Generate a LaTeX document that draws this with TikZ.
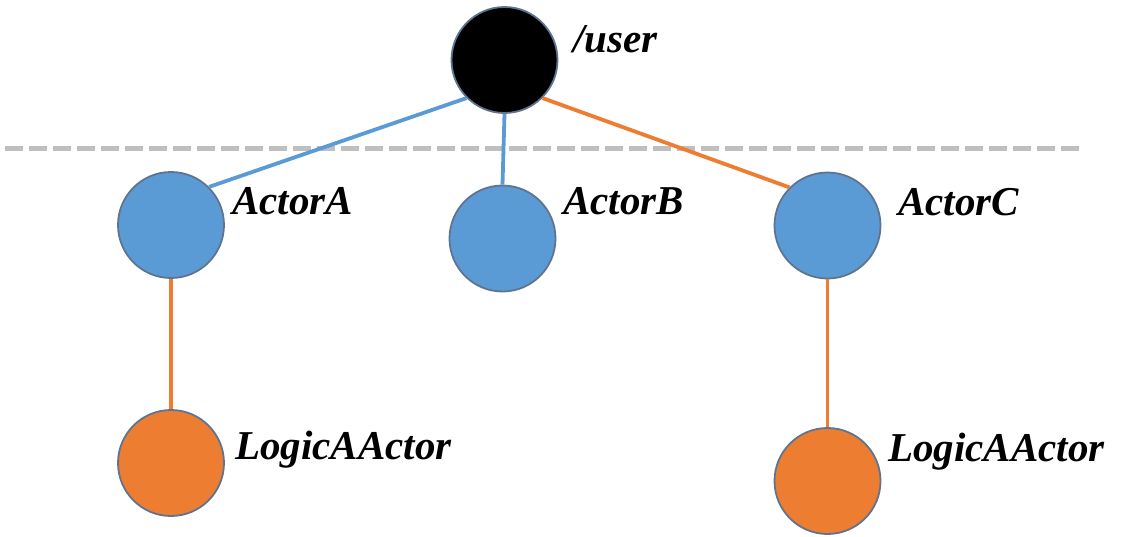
\documentclass[tikz,border=0pt]{standalone}
\usepackage{fontspec}
\setmainfont{Liberation Serif}
\definecolor{cblue}{HTML}{5B9BD5}
\definecolor{corange}{HTML}{ED7D31}
\definecolor{cedge}{HTML}{5F7490}
\definecolor{cdash}{HTML}{BFBFBF}
\tikzset{
  actor/.style={circle, draw=cedge, line width=1.8pt, minimum size=106pt, inner sep=0pt},
  bluenode/.style={actor, fill=cblue},
  orangenode/.style={actor, fill=corange},
  usernode/.style={actor, fill=black},
  lbl/.style={anchor=base west, inner sep=0pt, font=\fontsize{41}{41}\selectfont\bfseries\itshape},
  blueline/.style={draw=cblue, line width=3.8pt},
  orangeline/.style={draw=corange, line width=3.8pt},
  sep/.style={draw=cdash, line width=5pt, dash pattern=on 18pt off 6pt}
}
\begin{document}
\begin{tikzpicture}[x=1pt,y=-1pt]
\useasboundingbox (0,0) rectangle (1132,536);
\coordinate (d1) at (5,148);
\coordinate (d2) at (1080,148);
\draw[sep] (d1) -- (d2);
\node[usernode] (user) at (504.5,60) {};
\node[bluenode] (A) at (171,225) {};
\node[bluenode] (B) at (502.5,238.5) {};
\node[bluenode] (C) at (827.5,225.5) {};
\node[orangenode] (LA) at (171,463) {};
\node[orangenode] (LC) at (827.5,481) {};
\draw[blueline] (user.south west) -- (A.north east);
\draw[blueline] (user.south) -- (B.north);
\draw[orangeline] (user.south east) -- (C.north west);
\draw[orangeline] (A.south) -- (LA.north);
\draw[orangeline] (C.south) -- (LC.north);
\node[lbl] (tuser) at (573,52) {/user};
\node[lbl] (tA) at (232,214) {ActorA};
\node[lbl] (tB) at (563,214) {ActorB};
\node[lbl] (tC) at (898,215) {ActorC};
\node[lbl] (tLA) at (235,459) {LogicAActor};
\node[lbl] (tLC) at (888,461) {LogicAActor};
\end{tikzpicture}
\end{document}
